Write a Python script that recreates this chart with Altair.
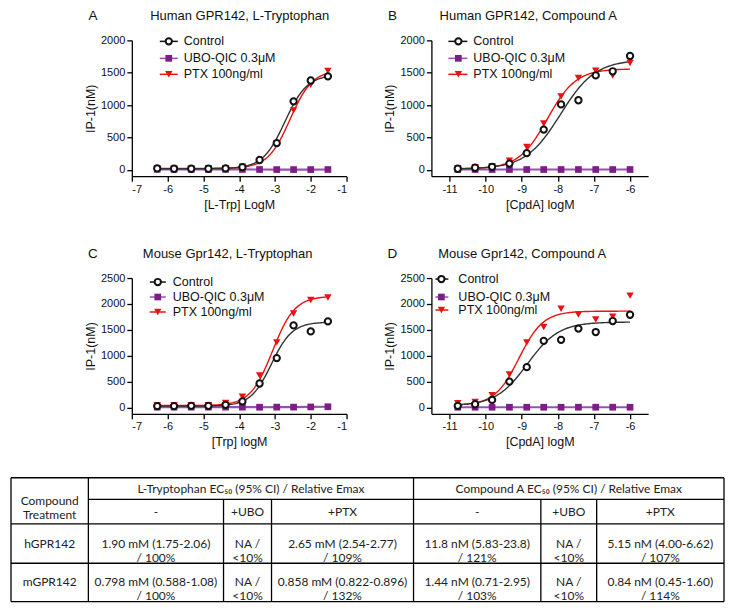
import altair as alt
import pandas as pd

# ---------------- data ----------------
# concentrations (log M), 3-fold dilutions
x_trp = [-6.29, -5.82, -5.34, -4.86, -4.38, -3.91, -3.43, -2.95, -2.48, -2.00, -1.52]
x_cpda = [-10.77, -10.29, -9.82, -9.34, -8.86, -8.39, -7.91, -7.43, -6.95, -6.48, -6.00]

# IP-1 (nM)
A_control = [20, 15, 15, 15, 20, 40, 150, 412, 1057, 1380, 1444]
A_ubo = [6, 5, 5, 5, 5, 4, 3, 2, 2, 2, 3]
A_ptx = [25, 20, 20, 22, 25, 45, 130, 410, 918, 1315, 1528]

B_control = [15, 30, 45, 95, 256, 620, 1010, 1074, 1458, 1522, 1759]
B_ubo = [4, 3, 3, 3, 3, 3, 3, 3, 3, 3, 3]
B_ptx = [25, 40, 55, 140, 350, 715, 1133, 1418, 1532, 1458, 1650]

C_control = [25, 25, 30, 30, 50, 115, 461, 953, 1584, 1468, 1663]
C_ubo = [5, 5, 5, 5, 5, 5, 3, 5, 5, 8, 12]
C_ptx = [40, 40, 40, 40, 85, 206, 619, 1256, 1814, 2075, 2124]

D_control = [30, 60, 145, 498, 777, 1286, 1305, 1523, 1456, 1669, 1790]
D_ubo = [3, 3, 3, 3, 3, 3, 3, 3, 3, 3, 3]
D_ptx = [80, 103, 237, 637, 1256, 1553, 1905, 1796, 1699, 1754, 2160]

# four-parameter logistic fits: [bottom, top, logEC50, hill]
A_fit_control = [15, 1470, -2.721, 1.4]
A_fit_ptx = [20, 1540, -2.577, 1.4]
B_fit_control = [10, 1700, -7.928, 0.9]
B_fit_ptx = [15, 1560, -8.288, 1.1]
C_fit_control = [25, 1650, -3.098, 1.5]
C_fit_ptx = [35, 2150, -3.067, 1.4]
D_fit_control = [30, 1650, -8.842, 1.0]
D_fit_ptx = [40, 1860, -9.076, 1.3]

panel_letters = ["A", "B", "C", "D"]
panel_titles = ["Human GPR142, L-Tryptophan", "Human GPR142, Compound A",
                "Mouse Gpr142, L-Tryptophan", "Mouse Gpr142, Compound A"]
x_titles = ["[L-Trp] LogM", "[CpdA] logM", "[Trp] logM", "[CpdA] logM"]
y_title = "IP-1(nM)"
legend_labels = ["Control", "UBO-QIC 0.3\u03bcM", "PTX 100ng/ml"]
trp_ticks = [-7, -6, -5, -4, -3, -2, -1]
cpda_ticks = [-11, -10, -9, -8, -7, -6]
y_ticks_2000 = [0, 500, 1000, 1500, 2000]
y_ticks_2500 = [0, 500, 1000, 1500, 2000, 2500]

# table
table_groups = ["L-Tryptophan EC\u2085\u2080 (95% CI) / Relative Emax",
                "Compound A EC\u2085\u2080 (95% CI) / Relative Emax"]
table_corner = "Compound\nTreatment"
table_subheaders = ["-", "+UBO", "+PTX", "-", "+UBO", "+PTX"]
table_row_names = ["hGPR142", "mGPR142"]
table_h_cells = ["1.90 mM (1.75-2.06)\n/ 100%", "NA /\n<10%", "2.65 mM (2.54-2.77)\n/ 109%",
                 "11.8 nM (5.83-23.8)\n/ 121%", "NA /\n<10%", "5.15 nM (4.00-6.62)\n/ 107%"]
table_m_cells = ["0.798 mM (0.588-1.08)\n/ 100%", "NA /\n<10%", "0.858 mM (0.822-0.896)\n/ 132%",
                 "1.44 nM (0.71-2.95)\n/ 103%", "NA /\n<10%", "0.84 nM (0.45-1.60)\n/ 114%"]
col_edges = [0, 79, 217, 266, 411, 541, 598, 728]
row_edges = [0, 22, 47, 87, 126]

# ---------------- style ----------------
FONT = "Liberation Sans, Arial, sans-serif"
TFONT = "Lato, Carlito, sans-serif"
BLACK = "#111111"
RED = "#ee1111"
PURPLE = "#7d1d86"
PURPLE_LINE = "#9b4fb5"
H = 136
one = pd.DataFrame({"v": [0]})


def labexpr():
    return "datum.value < 0 ? '-' + abs(datum.value) : datum.label"


def make_panel(xs, ctrl, ubo, ptx, fit_c, fit_p, xdom, xticks, ydom, yticks,
               xtitle, title, letter, width, title_dx, leg_x, leg_y):
    xscale = alt.Scale(domain=xdom, nice=False, zero=False)
    yscale = alt.Scale(domain=ydom, nice=False, zero=False)
    xaxis = alt.Axis(values=xticks, title=xtitle, labelExpr=labexpr())
    yaxis = alt.Axis(values=yticks, title=y_title, format="d")

    def X(f):
        return alt.X(f, type="quantitative", scale=xscale, axis=xaxis)

    def Y(f):
        return alt.Y(f, type="quantitative", scale=yscale, axis=yaxis)

    df = pd.DataFrame({"x": xs, "ctrl": ctrl, "ubo": ubo, "ptx": ptx})

    def curve(fit, color):
        fdf = pd.DataFrame([{"bottom": fit[0], "top": fit[1], "logec": fit[2],
                             "hill": fit[3], "x0": xs[0], "x1": xs[-1]}])
        return (alt.Chart(fdf)
                .transform_calculate(t="sequence(0, 121)")
                .transform_flatten(["t"])
                .transform_calculate(xx="datum.x0 + datum.t * (datum.x1 - datum.x0) / 120")
                .transform_calculate(yy="datum.bottom + (datum.top - datum.bottom) / "
                                        "(1 + pow(10, (datum.logec - datum.xx) * datum.hill))")
                .mark_line(color=color, strokeWidth=1.4)
                .encode(x=X("xx"), y=Y("yy")))

    layers = [
        alt.Chart(df).mark_line(color=PURPLE_LINE, strokeWidth=2.2).encode(x=X("x"), y=Y("ubo")),
        curve(fit_p, RED),
        curve(fit_c, "#333333"),
        alt.Chart(df).mark_point(shape="triangle-down", filled=True, color=RED, size=55, opacity=1)
        .encode(x=X("x"), y=Y("ptx")),
        alt.Chart(df).mark_point(shape="square", filled=True, color=PURPLE, size=45, opacity=1)
        .encode(x=X("x"), y=Y("ubo")),
        alt.Chart(df).mark_point(shape="circle", filled=True, fill="white", stroke=BLACK,
                                 strokeWidth=2, size=40, opacity=1)
        .encode(x=X("x"), y=Y("ctrl")),
        alt.Chart(one).mark_text(text=title, font=FONT, fontSize=13, color=BLACK,
                                 align="center", baseline="middle")
        .encode(x=alt.value(title_dx), y=alt.value(-24)),
        alt.Chart(one).mark_text(text=letter, font=FONT, fontSize=13.5, color=BLACK,
                                 align="center", baseline="middle")
        .encode(x=alt.value(-39), y=alt.value(-24)),
    ]
    # legend
    lx0, lxm, lx1, ltx = leg_x
    styles = [
        dict(shape="circle", filled=True, fill="white", stroke=BLACK, strokeWidth=2, size=40),
        dict(shape="square", filled=True, color=PURPLE, size=45),
        dict(shape="triangle-down", filled=True, color=RED, size=55),
    ]
    line_colors = [BLACK, PURPLE_LINE, RED]
    for i, lab in enumerate(legend_labels):
        ly = leg_y[i]
        layers.append(alt.Chart(one).mark_rule(color=line_colors[i], strokeWidth=1.5)
                      .encode(x=alt.value(lx0), x2=alt.value(lx1), y=alt.value(ly)))
        layers.append(alt.Chart(one).mark_point(opacity=1, **styles[i])
                      .encode(x=alt.value(lxm), y=alt.value(ly)))
        layers.append(alt.Chart(one).mark_text(text=lab, font=FONT, fontSize=12.5, color=BLACK,
                                               align="left", baseline="middle")
                      .encode(x=alt.value(ltx), y=alt.value(ly)))
    return alt.layer(*layers).properties(width=width, height=H)


def spacer():
    return (alt.Chart(one).mark_point(opacity=0)
            .encode(x=alt.value(0), y=alt.value(0))
            .properties(width=36, height=H))


pA = make_panel(x_trp, A_control, A_ubo, A_ptx, A_fit_control, A_fit_ptx,
                [-7, -1], trp_ticks, [-100, 2000], y_ticks_2000,
                x_titles[0], panel_titles[0], panel_letters[0], 215, 108,
                (28, 37, 46, 52), [1, 18, 34])
pB = make_panel(x_cpda, B_control, B_ubo, B_ptx, B_fit_control, B_fit_ptx,
                [-11.5, -5.5], cpda_ticks, [-100, 2000], y_ticks_2000,
                x_titles[1], panel_titles[1], panel_letters[1], 217, 97,
                (17, 27, 36, 42), [1, 18, 34])
pC = make_panel(x_trp, C_control, C_ubo, C_ptx, C_fit_control, C_fit_ptx,
                [-7, -1], trp_ticks, [-125, 2500], y_ticks_2500,
                x_titles[2], panel_titles[2], panel_letters[2], 215, 96,
                (18, 26, 34, 41), [4, 19, 34])
pD = make_panel(x_cpda, D_control, D_ubo, D_ptx, D_fit_control, D_fit_ptx,
                [-11.5, -5.5], cpda_ticks, [-125, 2500], y_ticks_2500,
                x_titles[3], panel_titles[3], panel_letters[3], 217, 91,
                (4, 10, 17, 27), [1, 19, 32])

row1 = alt.hconcat(spacer(), pA, pB, spacing=85, bounds="flush")
row2 = alt.hconcat(spacer(), pC, pD, spacing=85, bounds="flush")

# ---------------- table ----------------
ce, re_ = col_edges, row_edges
tw = ce[-1]
th = re_[-1]
segs = [
    (0, tw, re_[0], re_[0]),
    (ce[1], tw, re_[1], re_[1]),
    (0, tw, re_[2], re_[2]),
    (0, tw, re_[3], re_[3]),
    (0, tw, re_[4], re_[4]),
    (ce[0], ce[0], 0, th),
    (ce[1], ce[1], 0, th),
    (ce[2], ce[2], re_[1], th),
    (ce[3], ce[3], re_[1], th),
    (ce[4], ce[4], 0, th),
    (ce[5], ce[5], re_[1], th),
    (ce[6], ce[6], re_[1], th),
    (ce[7], ce[7], 0, th),
]
lines_df = pd.DataFrame(segs, columns=["x", "x2", "y", "y2"])

cells = []
cells.append(((ce[0] + ce[1]) / 2, (re_[0] + re_[2]) / 2, table_corner))
cells.append(((ce[1] + ce[4]) / 2, (re_[0] + re_[1]) / 2, table_groups[0]))
cells.append(((ce[4] + ce[7]) / 2, (re_[0] + re_[1]) / 2, table_groups[1]))
for j in range(6):
    cx = (ce[j + 1] + ce[j + 2]) / 2
    cells.append((cx, (re_[1] + re_[2]) / 2, table_subheaders[j]))
    cells.append((cx, (re_[2] + re_[3]) / 2, table_h_cells[j]))
    cells.append((cx, (re_[3] + re_[4]) / 2, table_m_cells[j]))
cells.append(((ce[0] + ce[1]) / 2, (re_[2] + re_[3]) / 2, table_row_names[0]))
cells.append(((ce[0] + ce[1]) / 2, (re_[3] + re_[4]) / 2, table_row_names[1]))
cells_df = pd.DataFrame(cells, columns=["x", "y", "label"])

tx = alt.Scale(domain=[0, tw], nice=False, zero=False)
ty = alt.Scale(domain=[0, th], nice=False, zero=False, reverse=True)
table_lines = alt.Chart(lines_df).mark_rule(color="black", strokeWidth=1.3).encode(
    x=alt.X("x:Q", scale=tx, axis=None), x2="x2:Q",
    y=alt.Y("y:Q", scale=ty, axis=None), y2="y2:Q")
table_text = alt.Chart(cells_df).mark_text(font=TFONT, fontSize=12, color="#222222",
                                           lineBreak="\n", lineHeight=14,
                                           align="center", baseline="middle").encode(
    x=alt.X("x:Q", scale=tx, axis=None), y=alt.Y("y:Q", scale=ty, axis=None), text="label:N")
table = alt.layer(table_lines, table_text).properties(width=714, height=124)

top = alt.vconcat(row1, row2, spacing=36)
chart = (alt.vconcat(top, table, spacing=28)
         .properties(padding={"top": 1, "left": 0, "right": 0, "bottom": 0})
         .configure_view(stroke=None)
         .configure_axis(domainColor="black", domainWidth=1.3, tickColor="black", tickWidth=1.3,
                         tickSize=5, labelFont=FONT, labelFontSize=11, labelColor=BLACK,
                         labelPadding=2, titleFont=FONT, titleFontSize=12.5,
                         titleFontWeight="normal", titleColor=BLACK, grid=False)
         .configure_axisX(titlePadding=4)
         .configure_axisY(titlePadding=3))

chart.save("out.html", embed_options={"renderer": "svg", "actions": False})
